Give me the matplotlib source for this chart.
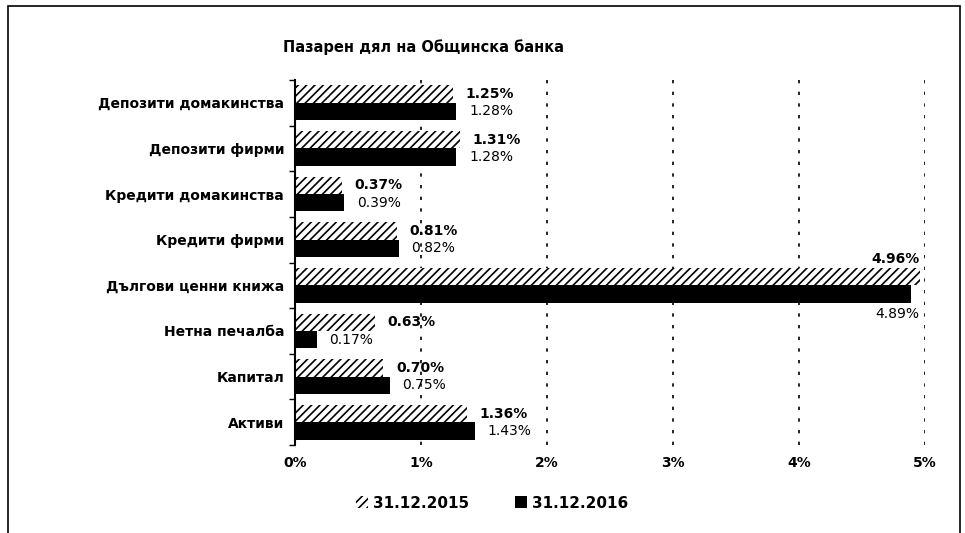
import numpy as np
import matplotlib.pyplot as plt
from matplotlib.patches import Patch, Rectangle

# market share of Obshtinska banka, %
categories = ["Депозити домакинства", "Депозити фирми", "Кредити домакинства",
              "Кредити фирми", "Дългови ценни книжа", "Нетна печалба",
              "Капитал", "Активи"]
share_2015 = [1.25, 1.31, 0.37, 0.81, 4.96, 0.63, 0.70, 1.36]
share_2016 = [1.28, 1.28, 0.39, 0.82, 4.89, 0.17, 0.75, 1.43]
xticks = [0, 1, 2, 3, 4, 5]
xtick_labels = ["0%", "1%", "2%", "3%", "4%", "5%"]

plt.rcParams['font.family'] = ['DejaVu Sans']
plt.rcParams['hatch.linewidth'] = 1.2

fig = plt.figure(figsize=(9.65, 5.33), dpi=100)
ax = fig.add_axes([0.306, 0.165, 0.653, 0.685])

y = np.arange(len(categories))
h = 0.38

ax.barh(y - h / 2, share_2015, height=h, color='white', edgecolor='black',
        hatch='////', linewidth=0, label="31.12.2015")
ax.barh(y + h / 2, share_2016, height=h, color='black', label="31.12.2016")

for i in range(len(categories)):
    v1 = share_2015[i]
    v2 = share_2016[i]
    if v1 > 4.5:
        ax.text(v1, i - h - 0.05, f"{v1:.2f}%", ha='right', va='bottom',
                fontsize=10, fontweight='bold')
        ax.text(v1, i + h + 0.1, f"{v2:.2f}%", ha='right', va='top', fontsize=10)
    else:
        ax.text(v1 + 0.1, i - h / 2, f"{v1:.2f}%", ha='left', va='center',
                fontsize=10, fontweight='bold')
        ax.text(v2 + 0.1, i + h / 2, f"{v2:.2f}%", ha='left',
                va='center', fontsize=10)

ax.set_xlim(0, 5.005)
ax.set_ylim(len(categories) - 0.5, -0.5)
ax.set_xticks(xticks)
ax.set_xticklabels(xtick_labels, fontsize=10, fontweight='bold')
ax.set_yticks(y)
ax.set_yticklabels(categories, fontsize=10, fontweight='bold')
ax.tick_params(axis='y', length=0, pad=8)
ax.tick_params(axis='x', length=0, pad=8)
ax.set_yticks(np.arange(len(categories) + 1) - 0.5, minor=True)
ax.tick_params(axis='y', which='minor', length=4, width=1)

ax.grid(axis='x', linestyle=(0, (2, 5)), color='black', linewidth=1.2)
ax.set_axisbelow(True)
for s in ['top', 'right', 'bottom']:
    ax.spines[s].set_visible(False)
ax.spines['left'].set_linewidth(1.5)

fig.text(283 / 965, 1 - 47 / 533, "Пазарен дял на Общинска банка",
         fontsize=10.5, fontweight='bold', ha='left', va='center')

leg = fig.legend(handles=[Patch(facecolor='white', edgecolor='black', hatch='////', linewidth=0),
                          Patch(facecolor='black')],
                 labels=["31.12.2015", "31.12.2016"],
                 loc='center', bbox_to_anchor=(0.51, 1 - 503 / 533), ncol=2,
                 frameon=False, prop={'weight': 'bold', 'size': 11},
                 handlelength=0.8, handleheight=0.8, columnspacing=3, handletextpad=0.3)

# frame of the chart area
fig.patches.append(Rectangle((0.008, -0.01), 0.987, 0.998, transform=fig.transFigure,
                             fill=False, edgecolor='black', linewidth=1.2))

fig.savefig("out.png", dpi=100)
